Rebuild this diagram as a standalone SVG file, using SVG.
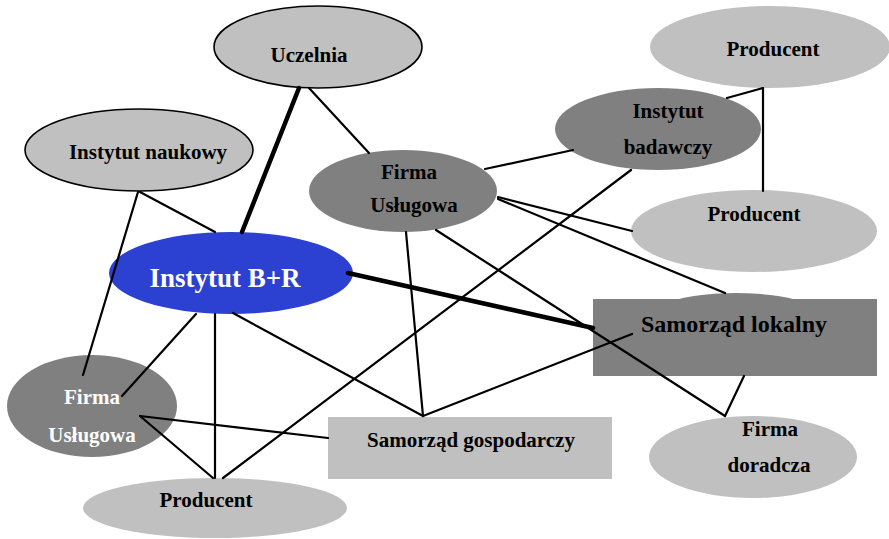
<svg xmlns="http://www.w3.org/2000/svg" width="889" height="539" viewBox="0 0 889 539">
<style>
text{font-family:"Liberation Serif","Times New Roman",serif;font-weight:bold;font-size:21px;text-anchor:middle;fill:#000}
.lt{fill:#c0c0c0}
.dk{fill:#808080}
.ol{stroke:#000;stroke-width:1.6}
.w{fill:#fff}
.c line{stroke:#000;stroke-width:2.2;stroke-linecap:round}
.c line.thick{stroke-width:4.5}
</style>
<rect width="889" height="539" fill="#fff"/>
<g id="uczelnia"><ellipse class="lt ol" cx="318" cy="47" rx="104" ry="41"/><text x="309" y="62">Uczelnia</text></g>
<g id="instytut-naukowy"><ellipse class="lt ol" cx="139" cy="150" rx="114" ry="41"/><text x="148" y="159">Instytut naukowy</text></g>
<g id="firma-uslugowa-srodek"><ellipse class="dk" cx="403" cy="191" rx="94" ry="41"/><text x="409" y="179">Firma</text><text x="414" y="212">Usługowa</text></g>
<g id="instytut-br"><ellipse fill="#2c40d1" cx="231" cy="273" rx="122" ry="41"/><text class="w" x="225" y="287" style="font-size:27px">Instytut B+R</text></g>
<g id="producent-gora"><ellipse class="lt" cx="770" cy="47" rx="120" ry="41"/><text x="773" y="56">Producent</text></g>
<g id="instytut-badawczy"><ellipse class="dk" cx="658" cy="129" rx="103" ry="41"/><text x="668" y="118">Instytut</text><text x="668" y="154">badawczy</text></g>
<g id="producent-srodek"><ellipse class="lt" cx="754" cy="231" rx="123" ry="41"/><text x="754" y="221">Producent</text></g>
<g id="samorzad-lokalny"><ellipse class="dk" cx="736" cy="334" rx="110" ry="41"/><rect class="dk" x="593" y="299" width="284" height="77"/><text x="734" y="332" style="font-size:24px">Samorząd lokalny</text></g>
<g id="firma-doradcza"><ellipse class="lt" cx="753" cy="457" rx="104" ry="41"/><text x="770" y="436">Firma</text><text x="769" y="472">doradcza</text></g>
<g id="samorzad-gospodarczy"><rect class="lt" x="328" y="417" width="284" height="62"/><text x="471" y="447">Samorząd gospodarczy</text></g>
<g id="firma-uslugowa-lewa"><ellipse class="dk" cx="92" cy="406" rx="85" ry="51"/><text class="w" x="92" y="404">Firma</text><text class="w" x="92" y="442">Usługowa</text></g>
<g id="producent-dol"><ellipse class="lt" cx="215" cy="508" rx="132" ry="30"/><text x="206" y="507">Producent</text></g>
<g id="connectors" class="c">
<line class="thick" x1="299" y1="88" x2="242" y2="232"/>
<line x1="309" y1="88" x2="369" y2="153"/>
<line x1="140" y1="192" x2="215" y2="232"/>
<line x1="138" y1="192" x2="83" y2="375"/>
<line x1="406" y1="232" x2="423" y2="416"/>
<line x1="233" y1="313" x2="423" y2="416"/>
<line x1="423" y1="416" x2="632" y2="334"/>
<line x1="498" y1="197" x2="632" y2="231"/>
<line x1="436" y1="230" x2="725" y2="416"/>
<line x1="498" y1="199" x2="725" y2="293"/>
<line x1="485" y1="169" x2="573" y2="150"/>
<line x1="631" y1="170" x2="223" y2="478"/>
<line x1="727" y1="98" x2="763" y2="88"/>
<line x1="763" y1="88" x2="763" y2="191"/>
<line class="thick" x1="348" y1="273" x2="593" y2="328"/>
<line x1="196" y1="314" x2="122" y2="396"/>
<line x1="215" y1="314" x2="215" y2="478"/>
<line x1="140" y1="416" x2="328" y2="438"/>
<line x1="140" y1="416" x2="213" y2="478"/>
<line x1="744" y1="376" x2="725" y2="416"/>
</g>
</svg>
